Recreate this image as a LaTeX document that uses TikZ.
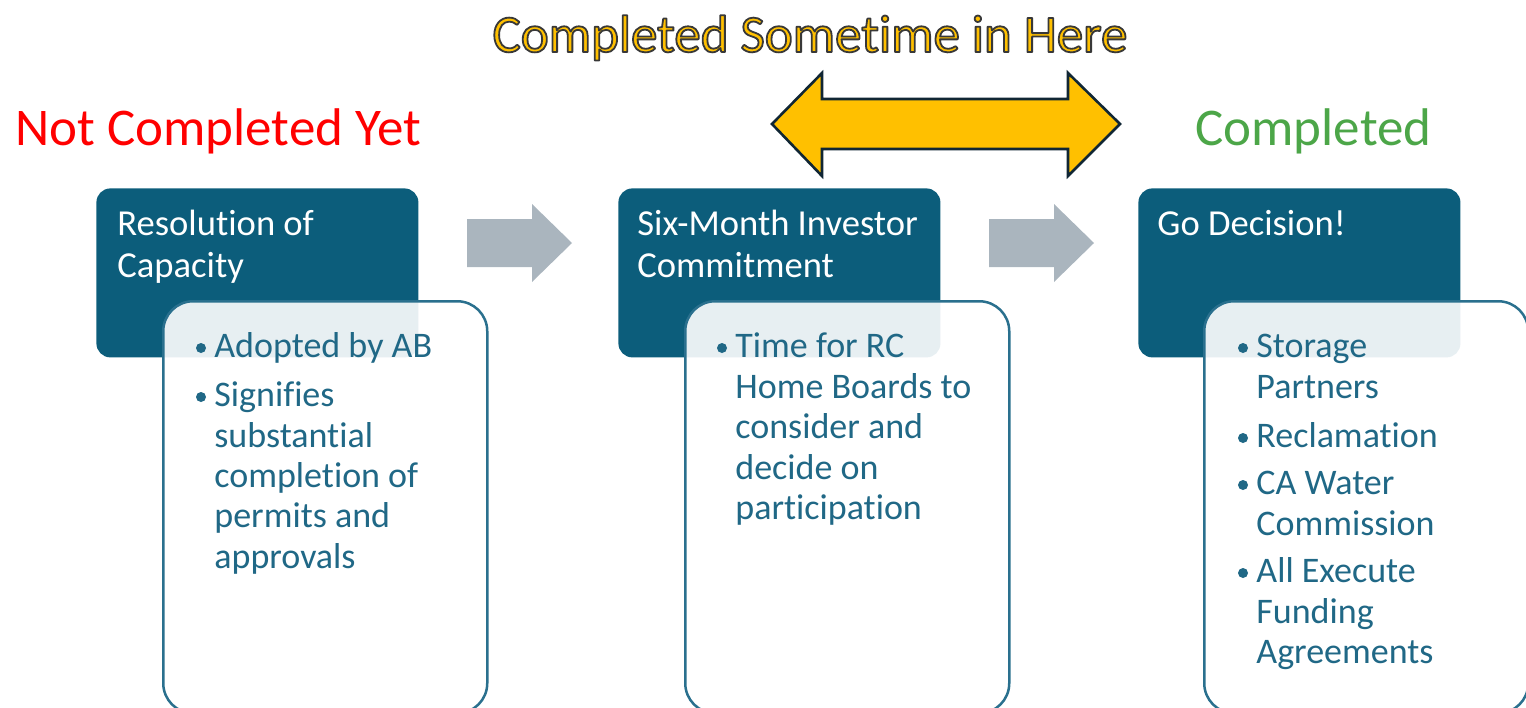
\documentclass[tikz,border=0pt]{standalone}
\usepackage{fontspec}
\setmainfont{Carlito}[Ligatures={NoCommon}]
\definecolor{darkboxc}{RGB}{12,93,123}
\definecolor{bodytext}{RGB}{32,104,134}
\definecolor{bordercol}{RGB}{42,112,142}
\definecolor{arrowgray}{RGB}{170,181,190}
\definecolor{yellowc}{RGB}{255,192,0}
\definecolor{yborder}{RGB}{16,38,52}
\definecolor{greenc}{RGB}{76,166,72}
\definecolor{redc}{RGB}{255,0,0}
\newcommand{\outlinedtext}[1]{\special{pdf:literal direct 0.22 0.22 0.22 RG 0.9 w 1 j 2 Tr}#1\special{pdf:literal direct 0 Tr}}
\tikzset{
  darkbox/.style={fill=darkboxc, rounded corners=7pt, anchor=north west, inner sep=0, minimum width=161pt, minimum height=84.5pt},
  bodybox/.style={draw=bordercol, line width=1.25pt, fill=white, fill opacity=0.9, rounded corners=15pt, anchor=north west, inner sep=0, minimum width=162pt, minimum height=206pt},
  ttl/.style={anchor=base west, inner sep=0, text=white, font=\fontsize{18.3}{22}\selectfont},
  body/.style={anchor=base west, inner sep=0, text=bodytext, font=\fontsize{18}{22}\selectfont},
  bul/.style={circle, fill=bodytext, inner sep=0, minimum size=5pt},
  grayarrow/.style={fill=arrowgray},
  bigarrow/.style={fill=yellowc, draw=yborder, line width=1.3pt, line join=miter},
  status/.style={anchor=base west, inner sep=0, font=\fontsize{26.5}{30}\selectfont},
}
\begin{document}
\begin{tikzpicture}[x=0.5pt,y=-0.5pt]
\useasboundingbox (0,0) rectangle (1526,707);
\clip (0,0) rectangle (1526,707);

% title and status labels
\node[anchor=base, inner sep=0, text=yellowc, font=\fontsize{26.5}{30}\selectfont] (title) at (810,52) {\outlinedtext{Completed Sometime in Here}};
\node[status, text=redc] (notyet) at (15,145) {Not Completed Yet};
\node[status, text=greenc] (done) at (1195,145) {Completed};

% yellow double arrow
\draw[bigarrow] (772,124) -- (822,73) -- (822,99) -- (1068,99) -- (1068,73) -- (1120,124) -- (1068,176) -- (1068,149) -- (822,149) -- (822,176) -- cycle;

% gray arrows
\fill[grayarrow] (467,219) -- (532,219) -- (532,204) -- (572,243) -- (532,282) -- (532,267) -- (467,267) -- cycle;
\fill[grayarrow] (989,219) -- (1054,219) -- (1054,204) -- (1094,243) -- (1054,282) -- (1054,267) -- (989,267) -- cycle;

% dark title boxes
\node[darkbox] (t1) at (96,188) {};
\node[darkbox] (t2) at (618,188) {};
\node[darkbox] (t3) at (1138,188) {};

% white body boxes
\node[bodybox] (b1) at (162,300) {};
\node[bodybox] (b2) at (684,300) {};
\node[bodybox] (b3) at (1203,300) {};

% titles
\node[ttl] (t1a) at (117,235) {Resolution of};
\node[ttl] (t1b) at (117,277) {Capacity};
\node[ttl] (t2a) at (637,235) {Six-Month Investor};
\node[ttl] (t2b) at (637,277) {Commitment};
\node[ttl] (t3a) at (1157,235) {Go Decision!};

% body 1
\node[bul] (u1a) at (201,348) {};
\node[body] (l1a) at (214,357) {Adopted by AB};
\node[bul] (u1b) at (201,397) {};
\node[body] (l1b) at (214,406) {Signifies};
\node[body] (l1c) at (214,447) {substantial};
\node[body] (l1d) at (214,487) {completion of};
\node[body] (l1e) at (214,527) {permits and};
\node[body] (l1f) at (214,568) {approvals};

% body 2
\node[bul] (u2a) at (722,348) {};
\node[body] (l2a) at (735,357) {Time for RC};
\node[body] (l2b) at (735,398) {Home Boards to};
\node[body] (l2c) at (735,438) {consider and};
\node[body] (l2d) at (735,479) {decide on};
\node[body] (l2e) at (735,519) {participation};

% body 3
\node[bul] (u3a) at (1243,348) {};
\node[body] (l3a) at (1256,357) {Storage};
\node[body] (l3b) at (1256,398) {Partners};
\node[bul] (u3c) at (1243,438) {};
\node[body] (l3c) at (1256,447) {Reclamation};
\node[bul] (u3d) at (1243,485) {};
\node[body] (l3d) at (1256,494) {CA Water};
\node[body] (l3e) at (1256,535) {Commission};
\node[bul] (u3f) at (1243,573) {};
\node[body] (l3f) at (1256,582) {All Execute};
\node[body] (l3g) at (1256,623) {Funding};
\node[body] (l3h) at (1256,663) {Agreements};
\end{tikzpicture}
\end{document}
